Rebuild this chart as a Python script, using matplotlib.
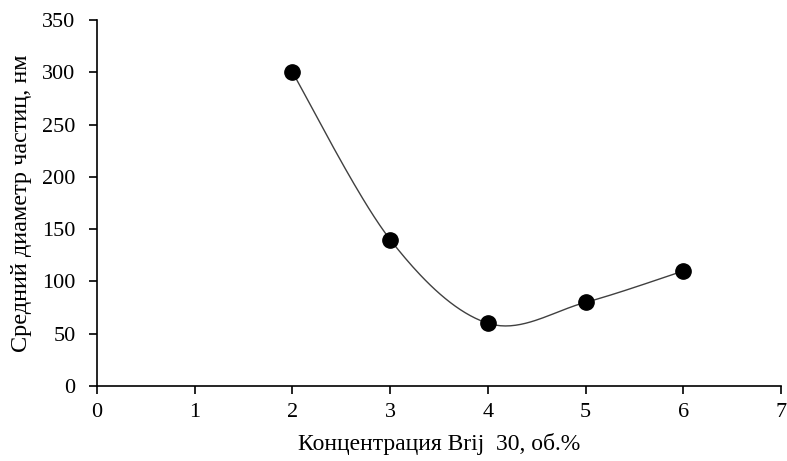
import numpy as np
import matplotlib
matplotlib.use("Agg")
import matplotlib.pyplot as plt

plt.rcParams['font.family'] = ['Liberation Serif', 'DejaVu Serif']

concentration = [2, 3, 4, 5, 6]
diameter = [300, 140, 60, 80, 110]


def smooth_curve(xs, ys, n=40):
    """Cardinal-spline style smoothing through every point (Bezier segments)."""
    pts = np.column_stack([xs, ys]).astype(float)
    ext = np.vstack([pts[0], pts, pts[-1]])
    out = []
    t = np.linspace(0, 1, n)[:, None]
    for i in range(1, len(ext) - 2):
        p0, p1, p2, p3 = ext[i - 1], ext[i], ext[i + 1], ext[i + 2]
        c1 = p1 + (p2 - p0) / 6.0
        c2 = p2 - (p3 - p1) / 6.0
        seg = ((1 - t) ** 3) * p1 + 3 * ((1 - t) ** 2) * t * c1 + 3 * (1 - t) * t ** 2 * c2 + t ** 3 * p2
        out.append(seg)
    curve = np.vstack(out)
    return curve[:, 0], curve[:, 1]


fig = plt.figure(figsize=(7.87, 4.61), dpi=100)
ax = fig.add_axes([0.1233, 0.1627, 0.8691, 0.7939])

cx, cy = smooth_curve(concentration, diameter)
ax.plot(cx, cy, color='#404040', lw=1.0, zorder=2)
ax.plot(concentration, diameter, 'o', color='black', markersize=11, zorder=3)

ax.set_xlim(0, 7)
ax.set_ylim(0, 350)
ax.set_xticks(range(0, 8))
ax.set_yticks(range(0, 351, 50))

for side in ('top', 'right'):
    ax.spines[side].set_visible(False)
for side in ('left', 'bottom'):
    ax.spines[side].set_linewidth(1.2)
    ax.spines[side].set_color('black')

ax.tick_params(direction='out', length=5.5, width=1.2, labelsize=16, color='black')
ax.tick_params(axis='y', pad=10)
ax.tick_params(axis='x', pad=7)
ax.set_xlabel('Концентрация Brij  30, об.%', fontsize=17, labelpad=8)
ax.set_ylabel('Средний диаметр частиц, нм', fontsize=17.5, labelpad=7)

fig.savefig('out.png', dpi=100)
